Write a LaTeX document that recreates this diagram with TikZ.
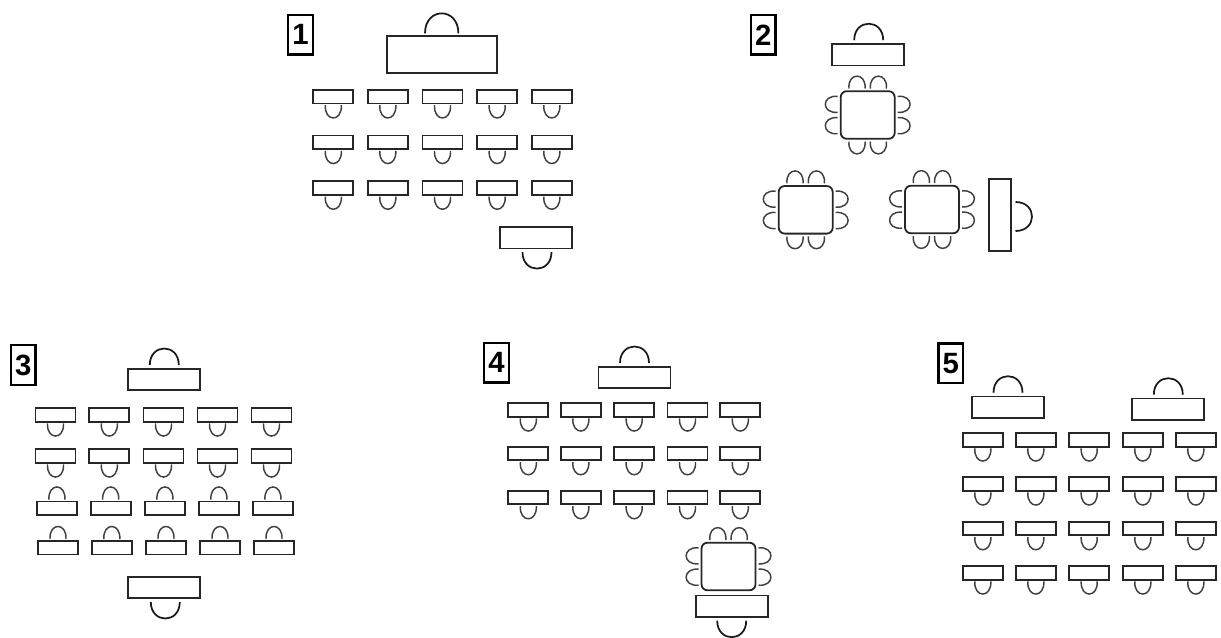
\documentclass[tikz,border=0pt]{standalone}
\usepackage{fontspec}
\setmainfont{Liberation Sans}

\begin{document}
\begin{tikzpicture}[
        x=0.75pt, y=-0.75pt,
        pupildesk/.style={draw=black!85, line width=1.35pt, inner sep=0pt, minimum width=30pt, minimum height=10.2pt},
        teacherdesk/.style={draw=black!85, line width=1.35pt, inner sep=0pt, minimum width=54pt, minimum height=16.2pt},
        headdesk/.style={draw=black!85, line width=1.35pt, inner sep=0pt, minimum width=82.5pt, minimum height=27.4pt},
        grouptable/.style={draw=black!85, line width=1.35pt, rounded corners=4.5pt, inner sep=0pt, minimum width=40.5pt, minimum height=35.7pt},
        roomnum/.style={draw=black, line width=1.9pt, inner sep=0pt, minimum width=18.5pt, minimum height=29.7pt, font=\fontsize{22}{22}\selectfont\bfseries},
        seat/.pic={\draw[black!75, line width=1.1pt] (-8,8.5) .. controls (-9,25.5) and (9,25.5) .. (8,8.5);},
        sideseat/.pic={\draw[black!75, line width=1.1pt] (-8,0) .. controls (-9.5,16.5) and (9.5,16.5) .. (8,0);},
        teacherseat/.pic={\draw[black!90, line width=1.3pt] (-14.5,14.5) .. controls (-14.5,36.5) and (14.5,36.5) .. (14.5,14.5);},
        headseat/.pic={\draw[black!90, line width=1.3pt] (-16.7,21.2) .. controls (-16.7,47.8) and (16.7,47.8) .. (16.7,21.2);}
    ]
        \useasboundingbox (0,0) rectangle (1221,637);

        % room 1
        \node[roomnum] (num1) at (300.5,34.7) {1};
        \node[headdesk] (head1) at (441.7,54.5) {};
        \pic[rotate=180] at (head1.center) {headseat};
        \foreach \y [count=\r] in {96.7,142.3,188}
            \foreach \x [count=\c] in {333.3,387.8,442.5,497.2,551.8} {
                \node[pupildesk] (a\r\c) at (\x,\y) {};
                \pic at (a\r\c.center) {seat};
            }
        \node[teacherdesk] (back1) at (535.8,237.6) {};
        \pic at ([shift={(1.2,0)}]back1.center) {teacherseat};

        % room 2
        \node[roomnum] (num2) at (763.2,34.8) {2};
        \node[teacherdesk] (head2) at (867.7,54.7) {};
        \pic[rotate=180] at ([shift={(1,0)}]head2.center) {teacherseat};
        \node[teacherdesk, rotate=90] (side2) at (1000,214.8) {};
        \pic[rotate=90] at ([shift={(1,1.7)}]side2.center) {teacherseat};
        \foreach \t/\x/\y in {tableA/867.7/115, tableB/805.7/209.8, tableC/932/209.5} {
            \node[grouptable] (\t) at (\x,\y) {};
            \foreach \d in {-10.7,10.7} {
                \pic[rotate=180] at ([shift={(\d,-26.5)}]\t.center) {sideseat};
                \pic at ([shift={(\d,26.5)}]\t.center) {sideseat};
                \pic[rotate=-90] at ([shift={(-30,\d)}]\t.center) {sideseat};
                \pic[rotate=90] at ([shift={(30,\d)}]\t.center) {sideseat};
            }
        }

        % room 3
        \node[roomnum] (num3) at (23.2,365) {3};
        \node[teacherdesk] (head3) at (164.3,379.5) {};
        \pic[rotate=180] at (head3.center) {teacherseat};
        \foreach \y/\s/\a [count=\r] in {414.8/0/0, 455.8/0/0, 508.2/1.4/180, 547.7/2.5/180}
            \foreach \x [count=\c] in {55.5,109.3,163.5,217.5,271.5} {
                \node[pupildesk] (b\r\c) at (\x+\s,\y) {};
                \pic[rotate=\a] at (b\r\c.center) {seat};
            }
        \node[teacherdesk] (back3) at (164.3,587.5) {};
        \pic at ([shift={(1,0)}]back3.center) {teacherseat};

        % room 4
        \node[roomnum] (num4) at (496.5,362.8) {4};
        \node[teacherdesk] (head4) at (634.5,377.5) {};
        \pic[rotate=180] at (head4.center) {teacherseat};
        \foreach \y [count=\r] in {409.8,453.5,497.5}
            \foreach \x [count=\c] in {528.3,580.8,634.2,687.5,740.3} {
                \node[pupildesk] (c\r\c) at (\x,\y) {};
                \pic at (c\r\c.center) {seat};
            }
        \node[grouptable] (tableD) at (728.5,566.5) {};
        \foreach \d in {-10.7,10.7} {
            \pic[rotate=180] at ([shift={(\d,-26.5)}]tableD.center) {sideseat};
            \pic[rotate=-90] at ([shift={(-30,\d)}]tableD.center) {sideseat};
            \pic[rotate=90] at ([shift={(30,\d)}]tableD.center) {sideseat};
        }
        \node[teacherdesk] (back4) at (731.7,606.2) {};
        \pic at (back4.center) {teacherseat};

        % room 5
        \node[roomnum] (num5) at (950.8,363.2) {5};
        \node[teacherdesk] (headL) at (1008,407.2) {};
        \pic[rotate=180] at (headL.center) {teacherseat};
        \node[teacherdesk] (headR) at (1168.3,409.2) {};
        \pic[rotate=180] at (headR.center) {teacherseat};
        \foreach \y [count=\r] in {439.8,483.8,528.5,572.8}
            \foreach \x [count=\c] in {982.8,1035.8,1089.2,1142.8,1195.8} {
                \node[pupildesk] (e\r\c) at (\x,\y) {};
                \pic at (e\r\c.center) {seat};
            }
    \end{tikzpicture}
\end{document}
